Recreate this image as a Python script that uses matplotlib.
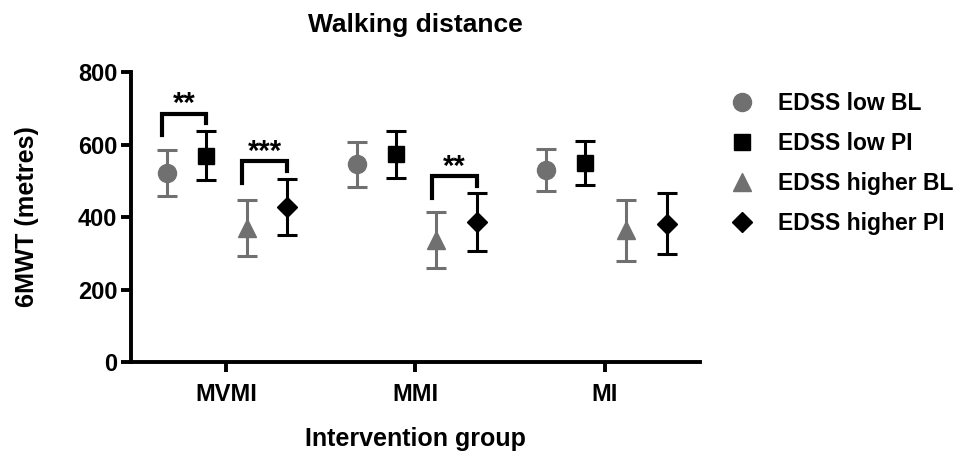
import matplotlib as mpl
mpl.use('Agg')
import matplotlib.pyplot as plt
from matplotlib.lines import Line2D
import numpy as np

plt.rcParams['font.family'] = ['Liberation Sans', 'DejaVu Sans']
plt.rcParams['font.weight'] = 'bold'

groups = ['MVMI', 'MMI', 'MI']
series = ['EDSS low BL', 'EDSS low PI', 'EDSS higher BL', 'EDSS higher PI']

# mean and error (metres), one value per group
low_bl = [521, 545, 531]
low_bl_err = [63, 61, 58]
low_pi = [569, 573, 549]
low_pi_err = [68, 65, 62]
high_bl = [370, 337, 363]
high_bl_err = [77, 77, 83]
high_pi = [428, 385, 381]
high_pi_err = [78, 80, 84]

# significance brackets: (group, left series, right series, label)
sig = [(0, 0, 1, '**'), (0, 2, 3, '***'), (1, 2, 3, '**')]

gray = '#707070'
styles = [(gray, 'o', 13), ('black', 's', 12), (gray, '^', 13), ('black', 'D', 10)]
offsets = [-0.31, -0.105, 0.11, 0.325]

fig = plt.figure(figsize=(9.6, 4.59), dpi=100)
ax = fig.add_axes([0.1365, 0.2113, 0.5925, 0.6318])

means = [low_bl, low_pi, high_bl, high_pi]
errs = [low_bl_err, low_pi_err, high_bl_err, high_pi_err]
x = np.arange(len(groups))

handles = []
for m, e, (clr, mk, ms), off, name in zip(means, errs, styles, offsets, series):
    ax.errorbar(x + off, m, yerr=e, fmt=mk, color=clr, ms=ms, mec=clr,
                ecolor=clr, elinewidth=2.2, capsize=7, capthick=2.2, zorder=3)
    handles.append(Line2D([], [], ls='none', marker=mk, color=clr, ms=ms, label=name))

for g, a, b, lab in sig:
    top = max(means[a][g] + errs[a][g], means[b][g] + errs[b][g])
    h = top + 48
    xl = g + offsets[a] - 0.025
    xr = g + offsets[b]
    ax.plot([xl, xl, xr, xr], [h - 60, h, h, h - 27], color='black',
            lw=3, solid_joinstyle='miter', zorder=4)
    ax.text((xl + xr) / 2, h + 4, lab, ha='center', va='baseline',
            fontsize=21, fontweight='bold')

ax.set_xlim(-0.5, 2.5)
ax.set_ylim(0, 800)
ax.set_yticks([0, 200, 400, 600, 800])
ax.set_xticks(x)
ax.set_xticklabels(groups)
for s in ('top', 'right'):
    ax.spines[s].set_visible(False)
for s in ('left', 'bottom'):
    ax.spines[s].set_linewidth(2.8)
ax.tick_params(width=2.8, length=7, labelsize=17)
ax.tick_params(axis='x', pad=8)
ax.tick_params(axis='y', pad=3)
for lbl in ax.get_xticklabels() + ax.get_yticklabels():
    lbl.set_fontweight('bold')

ax.set_title('Walking distance', fontsize=19, fontweight='bold', pad=29)
ax.set_xlabel('Intervention group', fontsize=18, fontweight='bold', labelpad=15)
ax.set_ylabel('6MWT (metres)', fontsize=18.2, fontweight='bold', labelpad=28)

fig.legend(handles=handles, loc='upper left', bbox_to_anchor=(0.74, 0.845),
           frameon=False, handlelength=1.0, handletextpad=1.03,
           labelspacing=0.75, prop={'weight': 'bold', 'size': 16.5})

fig.savefig('out.png', dpi=100)
